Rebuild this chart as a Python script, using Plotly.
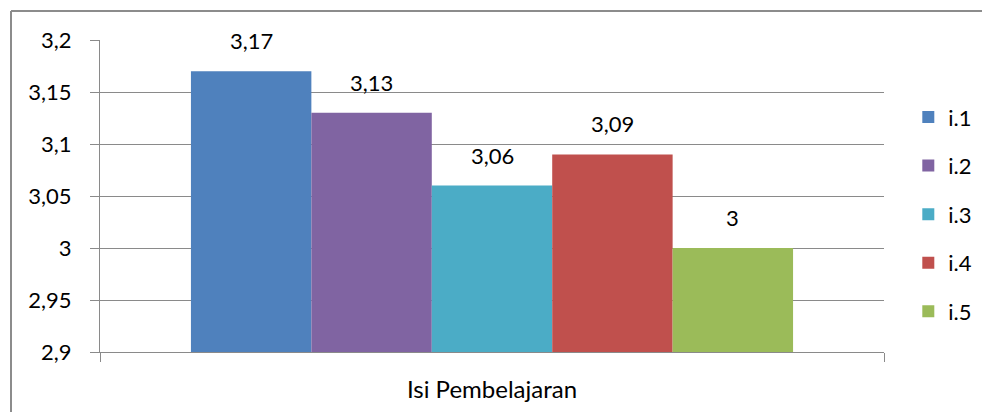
import plotly.graph_objects as go

category = ["Isi Pembelajaran"]
series_names = ["i.1", "i.2", "i.3", "i.4", "i.5"]
series_values = [3.17, 3.13, 3.06, 3.09, 3.00]
series_labels = ["3,17", "3,13", "3,06", "3,09", "3"]
colors = ["#4F81BD", "#8064A2", "#4BACC6", "#C0504D", "#9BBB59"]
y_tick_vals = [2.9, 2.95, 3.0, 3.05, 3.1, 3.15, 3.2]
y_tick_text = ["2,9", "2,95", "3", "3,05", "3,1", "3,15", "3,2"]

FONT = "Lato"
FS = 22
PAGE_OFF = 8  # default body margin of the html page
W, H = 990 - PAGE_OFF, 412 - PAGE_OFF
ML, MT = 100 - PAGE_OFF, 40 - PAGE_OFF
plot_w, plot_h = 784, 312
MR = W - ML - plot_w
MB = H - MT - plot_h
BARGAP = 0.232
bar_w = plot_w * (1 - BARGAP) / len(series_names)

fig = go.Figure()
for i, (n, v, c) in enumerate(zip(series_names, series_values, colors)):
    fig.add_trace(go.Bar(
        x=category, y=[v], name=n, marker=dict(color=c, line=dict(width=0)),
        legendgroup=n,
    ))
    fig.add_annotation(
        x=category[0], y=v, text=series_labels[i], showarrow=False,
        xshift=(i - (len(series_names) - 1) / 2) * bar_w, yshift=15,
        yanchor="bottom", font=dict(family=FONT, size=FS, color="#000"),
    )

grid = "#8a8a8a"
# outer chart frame (left and top edges visible)
fx = (11 - PAGE_OFF - ML) / plot_w
fy = (MT + plot_h - (11 - PAGE_OFF)) / plot_h
fig.add_shape(type="line", xref="paper", yref="paper", x0=fx, x1=fx, y0=-0.5, y1=fy,
              line=dict(color="#8c8c8c", width=2))
fig.add_shape(type="line", xref="paper", yref="paper", x0=fx, x1=1.5, y0=fy, y1=fy,
              line=dict(color="#8c8c8c", width=2))

fig.update_layout(
    width=W, height=H,
    margin=dict(l=ML, r=MR, t=MT, b=MB, autoexpand=False),
    paper_bgcolor="white", plot_bgcolor="white",
    barmode="group", bargap=BARGAP, bargroupgap=0,
    separators=", ",
    font=dict(family=FONT, size=FS, color="#000"),
    showlegend=True,
    legend=dict(x=1.031, xanchor="left", y=0.82, yanchor="top",
                font=dict(family=FONT, size=FS), traceorder="grouped",
                tracegroupgap=17, bgcolor="rgba(0,0,0,0)"),
    xaxis=dict(type="category", showline=True, linecolor=grid, linewidth=1,
               ticks="outside", tickson="boundaries", ticklen=9, tickcolor=grid,
               showgrid=False, ticklabelstandoff=16,
               tickfont=dict(family=FONT, size=24)),
    yaxis=dict(range=[2.9, 3.2], tickvals=y_tick_vals, ticktext=y_tick_text,
               showline=True, linecolor=grid, linewidth=1,
               ticks="outside", ticklen=9, tickcolor=grid,
               showgrid=True, gridcolor=grid, gridwidth=1,
               zeroline=False, ticklabelstandoff=14,
               tickfont=dict(family=FONT, size=FS)),
)

fig.write_html("out.html")
